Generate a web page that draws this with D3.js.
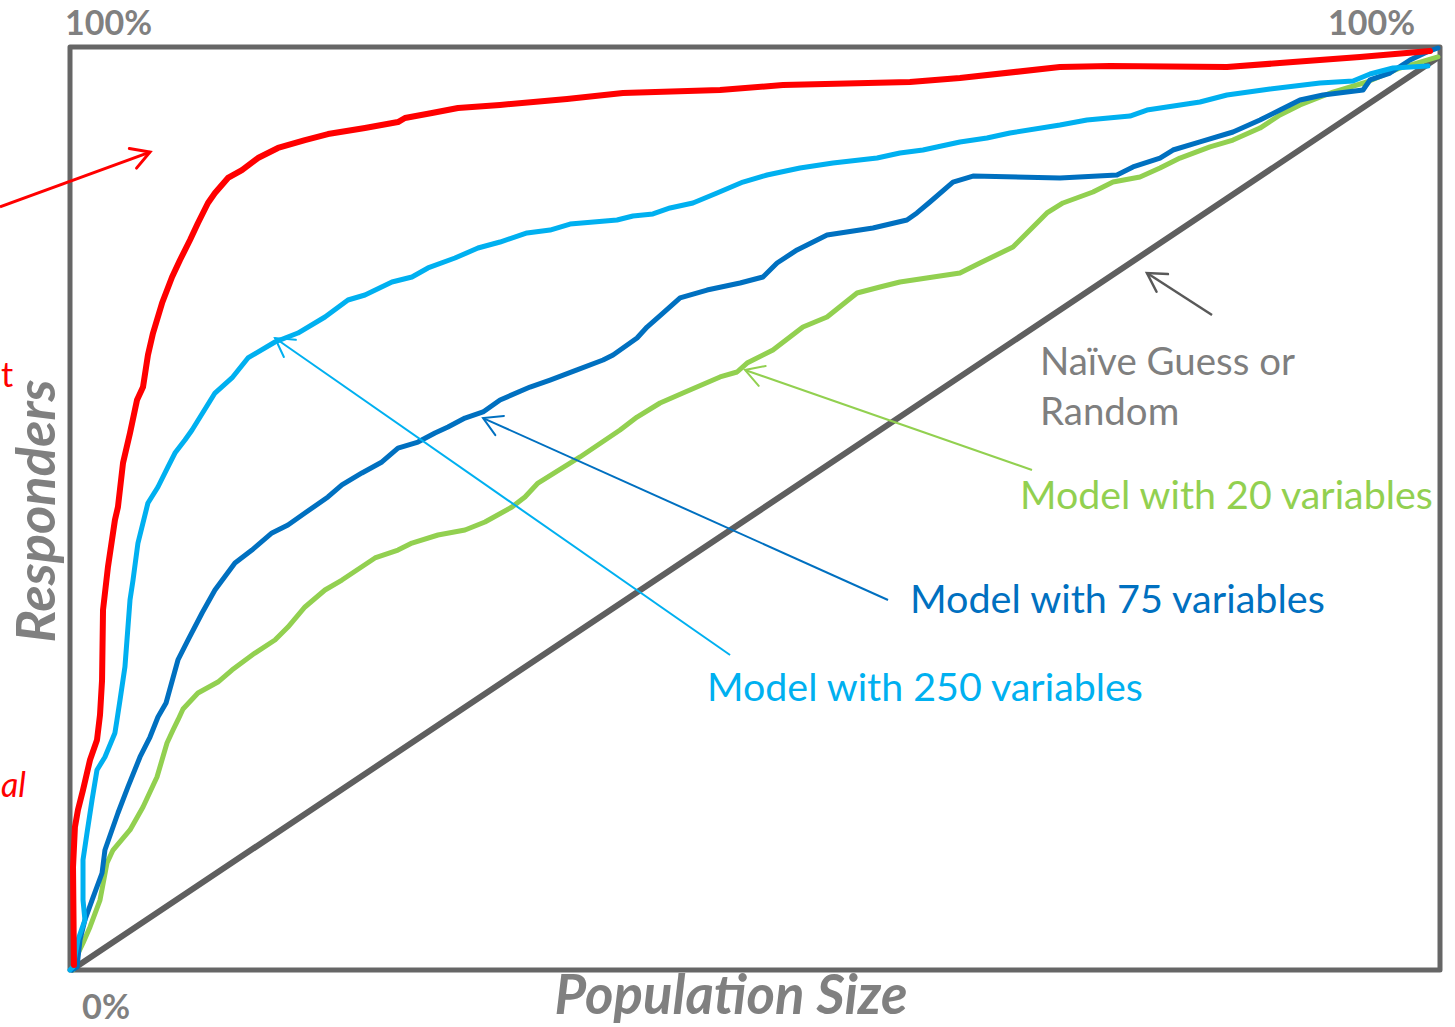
<!DOCTYPE html>
<html>
<head>
<meta charset="utf-8">
<script src="https://cdn.jsdelivr.net/npm/d3@7"></script>
<style>
  html, body { margin: 0; padding: 0; background: #fff; }
  svg { display: block; }
</style>
</head>
<body>
<svg id="chart" width="1455" height="1027"></svg>
<script>
// ---------- DATA (percent of population, percent of responders) ----------
const perfectModel = [
  [0.29,0.54],[0.22,11.16],[0.36,15.49],[0.58,17.33],[0.95,19.5],[1.46,22.75],[1.97,24.92],
  [2.19,27.63],[2.34,31.42],[2.41,39.0],[2.77,43.66],[3.28,48.75],[3.5,50.16],[3.87,54.93],
  [4.38,58.18],[4.89,61.75],[5.33,63.16],[5.69,66.63],[6.06,69.01],[6.72,72.26],[7.45,75.08],
  [8.03,76.92],[8.76,79.09],[9.34,80.93],[10.07,83.1],[10.58,84.18],[11.53,85.81],[12.55,86.67],
  [13.72,87.97],[15.18,89.06],[17.15,89.92],[18.83,90.57],[21.53,91.22],[23.94,91.87],[24.45,92.31],
  [26.42,92.85],[28.32,93.39],[31.39,93.72],[36.28,94.37],[40.36,95.02],[47.45,95.34],[52.04,95.88],
  [61.31,96.21],[64.96,96.64],[72.26,97.83],[75.91,97.94],[84.45,97.83],[89.27,98.37],[94.16,98.92],
  [99.27,99.57]
];
const model250 = [
  [0,0],[0.22,0.33],[0.58,3.25],[1.09,5.42],[0.95,7.58],[0.95,11.92],[1.24,14.84],[1.61,18.42],
  [1.97,21.67],[2.55,23.08],[3.28,25.68],[3.43,27.09],[3.65,29.25],[4.01,32.83],[4.38,40.09],
  [4.6,42.25],[4.96,46.26],[5.69,50.6],[6.42,52.33],[7.15,54.5],[7.66,56.01],[8.39,57.42],
  [8.91,58.5],[10.58,62.51],[11.82,64.14],[12.99,66.31],[14.96,68.04],[16.64,69.01],[18.61,70.75],
  [20.29,72.59],[21.53,73.13],[23.5,74.54],[24.96,75.08],[26.13,76.06],[28.1,77.14],[29.78,78.22],
  [31.39,78.87],[33.36,79.85],[35.04,80.17],[36.5,80.82],[39.93,81.26],[41.09,81.69],[42.55,81.91],
  [43.8,82.56],[45.47,83.1],[47.23,84.18],[49.12,85.37],[50.88,86.13],[53.28,86.89],[55.69,87.43],
  [58.91,87.97],[60.58,88.52],[62.26,88.84],[64.96,89.71],[66.93,90.14],[68.61,90.68],[72.26,91.55],
  [74.23,92.09],[77.37,92.52],[78.61,93.17],[82.48,94.04],[84.45,94.8],[87.59,95.45],[91.24,96.1],
  [93.65,96.32],[94.89,97.07],[96.57,97.72],[99.12,97.94]
];
const model75 = [
  [0.15,0],[0.51,0.33],[0.73,3.25],[1.09,5.42],[1.61,7.58],[2.34,10.51],[2.55,13.0],[3.5,17.01],
  [4.23,19.83],[5.11,23.08],[5.84,25.24],[6.42,27.41],[7.01,28.93],[7.88,33.59],[8.61,35.75],
  [9.64,38.68],[10.58,41.17],[12.04,44.09],[13.28,45.5],[14.74,47.35],[15.91,48.21],[17.15,49.51],
  [18.83,51.25],[19.85,52.55],[21.31,53.85],[22.77,55.04],[23.94,56.55],[25.4,57.2],[26.64,58.18],
  [27.59,58.83],[28.83,59.8],[30.15,60.46],[31.39,61.76],[33.58,63.16],[35.04,63.92],[37.01,65.01],
  [38.91,66.09],[39.64,66.63],[41.39,68.47],[42.12,69.66],[43.28,71.18],[44.53,72.81],[46.5,73.67],
  [48.91,74.43],[50.58,75.08],[51.61,76.6],[53.07,78.01],[55.26,79.63],[58.61,80.39],[61.09,81.26],
  [61.82,82.02],[62.77,83.21],[64.45,85.37],[65.91,86.02],[72.26,85.81],[76.42,86.13],[77.59,87.0],
  [79.56,87.97],[80.51,88.84],[82.48,89.71],[84.89,90.79],[86.86,92.09],[88.32,93.17],[89.78,94.26],
  [91.46,94.8],[94.38,95.34],[94.89,96.43],[96.35,97.18],[97.81,98.59],[99.05,99.46],[99.85,99.89]
];
const model20 = [
  [0.22,0],[0.36,1.08],[0.95,2.93],[1.46,4.66],[2.19,7.58],[2.7,11.59],[3.14,13.0],[4.38,15.17],
  [5.33,17.66],[6.35,20.91],[7.08,24.59],[7.52,26.0],[7.88,27.09],[8.25,28.28],[9.34,30.01],
  [10.8,31.2],[11.82,32.5],[13.5,34.34],[14.96,35.75],[15.91,37.16],[17.15,39.33],[18.61,41.17],
  [19.85,42.25],[22.26,44.64],[23.94,45.5],[24.96,46.26],[26.86,47.13],[28.83,47.67],[30.29,48.54],
  [32.26,50.16],[33.21,51.25],[34.16,52.76],[37.23,55.58],[40.15,58.5],[41.39,59.91],[43.07,61.43],
  [44.74,62.51],[47.45,64.25],[48.69,64.79],[49.42,65.76],[51.31,67.17],[53.5,69.66],[55.26,70.75],
  [57.45,73.35],[59.12,74.0],[60.58,74.54],[64.96,75.51],[66.42,76.6],[68.83,78.33],[71.31,82.02],
  [72.48,83.1],[74.67,84.29],[76.13,85.37],[78.1,85.92],[79.56,86.89],[81.02,87.97],[83.21,89.17],
  [84.89,89.92],[86.86,91.22],[88.32,92.63],[89.78,93.72],[92.19,95.12],[94.67,96.21],[97.08,97.72],
  [99.85,98.92]
];
const randomGuess = [[0.3,0.2],[99.8,98.8]];

const cornerTickLabels = ["0%", "100%"];
const axisTitles = ["Population Size", "Responders"];

const seriesLabels = [
  { text: "Model with 20 variables",  color: "#92d050", x: 69.34, y: 50.0, width: 413 },
  { text: "Model with 75 variables",  color: "#0070c0", x: 61.31, y: 38.7, width: 415 },
  { text: "Model with 250 variables", color: "#00b0f0", x: 46.5,  y: 29.1, width: 436 }
];
const naiveLabel = ["Naïve Guess or", "Random"];

const arrows = [
  { from: [-5.11, 82.67], to: [5.84, 88.62],  color: "#ff0000", w: 3 },
  { from: [48.18, 34.13], to: [14.96, 68.47], color: "#00b0f0", w: 2 },
  { from: [59.71, 40.09], to: [30.15, 59.80], color: "#0070c0", w: 2 },
  { from: [70.22, 54.17], to: [49.27, 65.01], color: "#92d050", w: 2 },
  { from: [83.36, 70.96], to: [78.61, 75.51], color: "#595959", w: 2.5 }
];

// ---------- DRAW ----------
const svg = d3.select("#chart");
const FONT = "Lato, 'Open Sans', sans-serif";
const x = d3.scaleLinear().domain([0, 100]).range([70, 1440]);
const y = d3.scaleLinear().domain([0, 100]).range([970, 47]);

function fit(sel, target) {
  const n = sel.node();
  const len = n.getComputedTextLength();
  const fs = parseFloat(sel.attr("font-size"));
  sel.attr("font-size", (fs * target / len).toFixed(2));
}

// frame
svg.append("rect")
  .attr("x", x(0)).attr("y", y(100))
  .attr("width", x(100) - x(0)).attr("height", y(0) - y(100))
  .attr("fill", "none").attr("stroke", "#666666").attr("stroke-width", 5)
  .attr("stroke-linejoin", "round");

const line = d3.line().x(d => x(d[0])).y(d => y(d[1])).curve(d3.curveLinear);

const series = [
  { data: randomGuess, color: "#5f5f5f", w: 6 },
  { data: model20,     color: "#92d050", w: 5 },
  { data: model75,     color: "#0070c0", w: 5 },
  { data: model250,    color: "#00b0f0", w: 5 },
  { data: perfectModel,color: "#ff0000", w: 6 }
];
svg.append("g").selectAll("path").data(series).join("path")
  .attr("d", d => line(d.data))
  .attr("fill", "none")
  .attr("stroke", d => d.color)
  .attr("stroke-width", d => d.w)
  .attr("stroke-linejoin", "round")
  .attr("stroke-linecap", "round");

// arrows
const ag = svg.append("g");
arrows.forEach(a => {
  const x1 = x(a.from[0]), y1 = y(a.from[1]), x2 = x(a.to[0]), y2 = y(a.to[1]);
  const ang = Math.atan2(y1 - y2, x1 - x2);
  const L = 21, spread = Math.PI / 6;
  ag.append("line").attr("x1", x1).attr("y1", y1).attr("x2", x2).attr("y2", y2)
    .attr("stroke", a.color).attr("stroke-width", a.w);
  const p = `M${x2 + L*Math.cos(ang+spread)},${y2 + L*Math.sin(ang+spread)} L${x2},${y2} L${x2 + L*Math.cos(ang-spread)},${y2 + L*Math.sin(ang-spread)}`;
  ag.append("path").attr("d", p).attr("fill", "none").attr("stroke", a.color)
    .attr("stroke-width", a.w).attr("stroke-linecap", "round").attr("stroke-linejoin", "miter");
});

// corner tick labels
const tl = svg.append("g").attr("font-family", FONT).attr("font-weight", 700).attr("fill", "#808080");
const t1 = tl.append("text").attr("x", x(0) - 5).attr("y", y(100) - 12).attr("font-size", 36).text(cornerTickLabels[1]);
fit(t1, 87);
const t2 = tl.append("text").attr("x", x(100) - 25).attr("y", y(100) - 12).attr("text-anchor", "end").attr("font-size", 36).text(cornerTickLabels[1]);
fit(t2, 87);
const t0 = tl.append("text").attr("x", x(0) + 12).attr("y", y(0) + 49).attr("font-size", 36).text(cornerTickLabels[0]);
fit(t0, 48);

// axis titles
const xt = svg.append("text").attr("x", 731).attr("y", 1014).attr("text-anchor", "middle")
  .attr("font-family", FONT).attr("font-weight", 700).attr("font-style", "italic")
  .attr("fill", "#808080").attr("font-size", 46).text(axisTitles[0]);
fit(xt, 353);
const yt = svg.append("text").attr("transform", "translate(55,511) rotate(-90)").attr("text-anchor", "middle")
  .attr("font-family", FONT).attr("font-weight", 700).attr("font-style", "italic")
  .attr("fill", "#808080").attr("font-size", 46).text(axisTitles[1]);
fit(yt, 263);

// series labels
seriesLabels.forEach(s => {
  const t = svg.append("text").attr("x", x(s.x)).attr("y", y(s.y))
    .attr("font-family", FONT).attr("fill", s.color).attr("font-size", 38).text(s.text);
  fit(t, s.width);
});
const n1 = svg.append("text").attr("x", 1040).attr("y", 375)
  .attr("font-family", FONT).attr("fill", "#7f7f7f").attr("font-size", 36).text(naiveLabel[0]);
fit(n1, 255);
svg.append("text").attr("x", 1040).attr("y", 425)
  .attr("font-family", FONT).attr("fill", "#7f7f7f").attr("font-size", n1.attr("font-size")).text(naiveLabel[1]);

// red annotation fragments at the left edge
svg.append("text").attr("x", 1).attr("y", 387).attr("font-family", FONT)
  .attr("fill", "#ff0000").attr("font-size", 34).text("t");
svg.append("text").attr("x", 1).attr("y", 797).attr("font-family", FONT)
  .attr("font-style", "italic").attr("fill", "#ff0000").attr("font-size", 34).text("al");
</script>
</body>
</html>
